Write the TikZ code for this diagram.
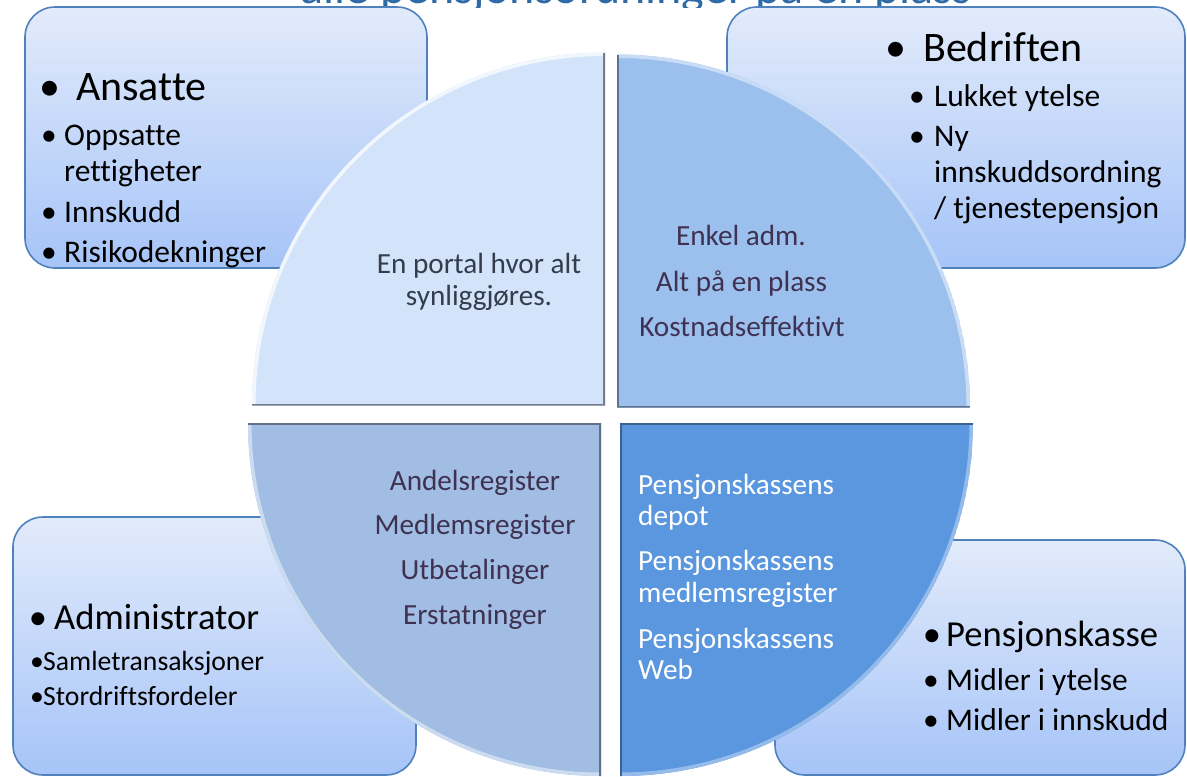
\documentclass[tikz,border=0pt]{standalone}
\usepackage{fontspec}
\setmainfont{Carlito}[Ligatures={NoCommon}]
\definecolor{boxtop}{HTML}{E2EBFB}
\definecolor{boxbot}{HTML}{A6C4F8}
\definecolor{boxline}{HTML}{4F81BD}
\definecolor{qTL}{HTML}{D2E3FA}
\definecolor{qTR}{HTML}{9CC0EE}
\definecolor{qBL}{HTML}{A1BDE3}
\definecolor{qBR}{HTML}{5B97DE}
\definecolor{titleblue}{HTML}{2E6AA6}
\definecolor{qtext}{HTML}{3F3151}
\definecolor{qtextTL}{HTML}{333D4C}
\newcommand{\ftHead}{\fontsize{42}{48}\selectfont}
\newcommand{\ftSub}{\fontsize{31.5}{36}\selectfont}
\newcommand{\ftHeadB}{\fontsize{36.6}{42}\selectfont}
\newcommand{\ftSubB}{\fontsize{27.7}{32}\selectfont}
\newcommand{\ftQ}{\fontsize{29.2}{33}\selectfont}
\newcommand{\ftTitle}{\fontsize{48}{54}\selectfont}
\begin{document}
\begin{tikzpicture}[x=1pt,y=-1pt,
  box/.style={draw=boxline, line width=1.6pt, rounded corners=30pt, top color=boxtop, bottom color=boxbot},
  txt/.style={inner sep=0pt, anchor=base west, text=black},
  ctxt/.style={inner sep=0pt, anchor=base, text=black},
  qc/.style={inner sep=0pt, anchor=base, text=qtext, font=\ftQ},
  ql/.style={inner sep=0pt, anchor=base west, text=white, font=\ftQ}]
\useasboundingbox (0,0) rectangle (1187,777);
% title (cut off at the top)
\begin{scope}
\clip (0,0) rectangle (1187,7.5);
\node[inner sep=0pt, anchor=base, text=titleblue, font=\ftTitle] (title) at (636,3) {alle pensjonsordninger på en plass};
\end{scope}
% boxes
\path[box] (25,7) rectangle (427,268);
\path[box] (727,7) rectangle (1185,268);
\path[box] (13,517) rectangle (416,775);
\path[box] (775,540) rectangle (1185,775);
% quadrant TL
\begin{scope}
\clip (605,405.5) -- ++(-353,0) arc[start angle=180,end angle=270,radius=353] -- cycle;
\fill[qTL] (605,405.5) -- ++(-353,0) arc[start angle=180,end angle=270,radius=353] -- cycle;
\draw[line width=7pt, white!70!qTL] (252,405.5) arc[start angle=180,end angle=270,radius=353];
\draw[line width=3.5pt, qTL!55!black] (252,405.5) -- (605,405.5) -- (605,52.5);
\end{scope}
% quadrant TR
\begin{scope}
\clip (617,407.5) -- ++(0,-353) arc[start angle=270,end angle=360,radius=353] -- cycle;
\fill[qTR] (617,407.5) -- ++(0,-353) arc[start angle=270,end angle=360,radius=353] -- cycle;
\draw[line width=7pt, white!45!qTR] (617,54.5) arc[start angle=270,end angle=360,radius=353];
\draw[line width=3.5pt, qTR!60!black] (617,54.5) -- (617,407.5) -- (970,407.5);
\end{scope}
% quadrant BL
\begin{scope}
\clip (601,423) -- ++(-353,0) arc[start angle=180,end angle=90,radius=353] -- cycle;
\fill[qBL] (601,423) -- ++(-353,0) arc[start angle=180,end angle=90,radius=353] -- cycle;
\draw[line width=7pt, white!45!qBL] (248,423) arc[start angle=180,end angle=90,radius=353];
\draw[line width=3.5pt, qBL!60!black] (248,423) -- (601,423) -- (601,776);
\end{scope}
% quadrant BR
\begin{scope}
\clip (620,423) -- ++(353,0) arc[start angle=0,end angle=90,radius=353] -- cycle;
\fill[qBR] (620,423) -- ++(353,0) arc[start angle=0,end angle=90,radius=353] -- cycle;
\draw[line width=7pt, white!35!qBR] (973,423) arc[start angle=0,end angle=90,radius=353];
\draw[line width=3.5pt, qBR!65!black] (973,423) -- (620,423) -- (620,776);
\end{scope}
% quadrant texts
\node[qc, text=qtextTL] (q1a) at (479,273) {En portal hvor alt};
\node[qc, text=qtextTL] (q1b) at (479,305) {synliggjøres.};
\node[qc] (q2a) at (741,245.6) {Enkel adm.};
\node[qc] (q2b) at (741.5,291) {Alt på en plass};
\node[qc] (q2c) at (742,336) {Kostnadseffektivt};
\node[qc] (q3a) at (475,490) {Andelsregister};
\node[qc] (q3b) at (475,534) {Medlemsregister};
\node[qc] (q3c) at (475,579) {Utbetalinger};
\node[qc] (q3d) at (475,624.5) {Erstatninger};
\node[ql] (q4a) at (638,494.5) {Pensjonskassens};
\node[ql] (q4b) at (638,525) {depot};
\node[ql] (q4c) at (638,570.5) {Pensjonskassens};
\node[ql] (q4d) at (638,602.5) {medlemsregister};
\node[ql] (q4e) at (638,648) {Pensjonskassens};
\node[ql] (q4f) at (638,679.5) {Web};
% Ansatte
\node[ctxt,font=\ftHead] (bA) at (50,100) {•};
\node[txt,font=\ftHead] (tA) at (76,100) {Ansatte};
\node[ctxt,font=\ftSub] (bA1) at (49,145.7) {•};
\node[txt,font=\ftSub] (tA1) at (64,145.7) {Oppsatte};
\node[txt,font=\ftSub] (tA1b) at (64,181) {rettigheter};
\node[ctxt,font=\ftSub] (bA2) at (49,222) {•};
\node[txt,font=\ftSub] (tA2) at (64,222) {Innskudd};
\node[ctxt,font=\ftSub] (bA3) at (49,262) {•};
\node[txt,font=\ftSub] (tA3) at (64,262) {Risikodekninger};
% Bedriften
\node[ctxt,font=\ftHead] (bB) at (896,61.7) {•};
\node[txt,font=\ftHead] (tB) at (923,61.7) {Bedriften};
\node[ctxt,font=\ftSub] (bB1) at (917,106) {•};
\node[txt,font=\ftSub] (tB1) at (934,106) {Lukket ytelse};
\node[ctxt,font=\ftSub] (bB2) at (917,146) {•};
\node[txt,font=\ftSub] (tB2) at (934,146) {Ny};
\node[txt,font=\ftSub] (tB2b) at (934,182) {innskuddsordning};
\node[txt,font=\ftSub] (tB2c) at (934,218) {/ tjenestepensjon};
% Administrator
\node[ctxt,font=\ftHeadB] (bC) at (38,629) {•};
\node[txt,font=\ftHeadB] (tC) at (54,629) {Administrator};
\node[ctxt,font=\ftSubB] (bC1) at (37,670) {•};
\node[txt,font=\ftSubB] (tC1) at (43,670) {Samletransaksjoner};
\node[ctxt,font=\ftSubB] (bC2) at (37,705) {•};
\node[txt,font=\ftSubB] (tC2) at (43,705) {Stordriftsfordeler};
% Pensjonskasse
\node[ctxt,font=\ftHeadB] (bD) at (932,646) {•};
\node[txt,font=\ftHeadB] (tD) at (946,646) {Pensjonskasse};
\node[ctxt,font=\ftSub] (bD1) at (931,690) {•};
\node[txt,font=\ftSub] (tD1) at (946,690) {Midler i ytelse};
\node[ctxt,font=\ftSub] (bD2) at (931,730) {•};
\node[txt,font=\ftSub] (tD2) at (946,730) {Midler i innskudd};
\end{tikzpicture}
\end{document}
